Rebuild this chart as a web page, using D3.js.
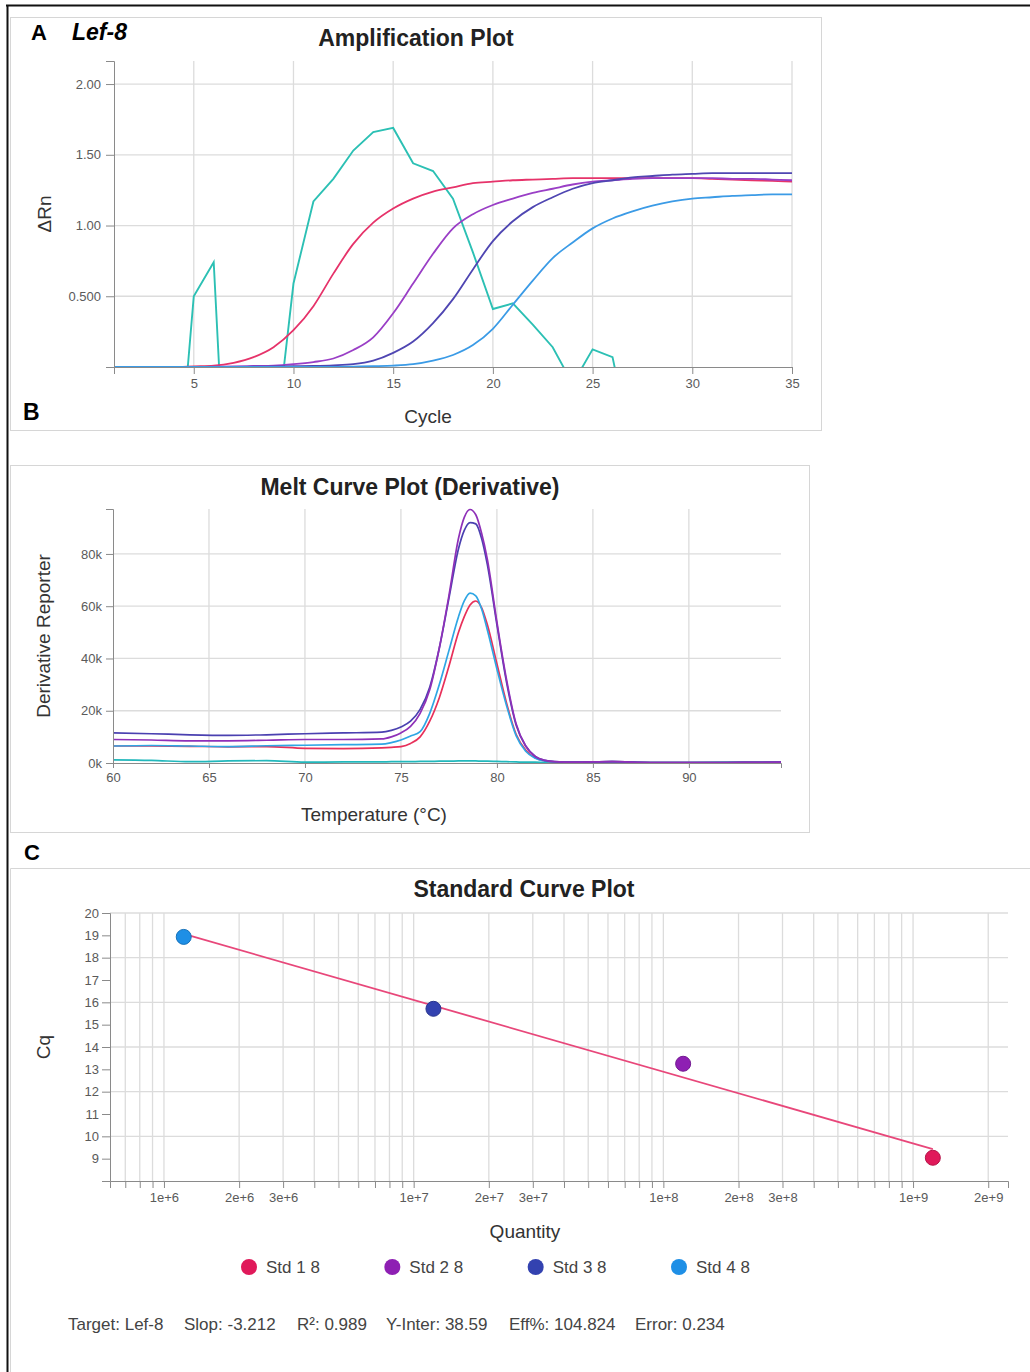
<!DOCTYPE html>
<html><head><meta charset="utf-8">
<script src="https://cdn.jsdelivr.net/npm/d3@7"></script>
<style>
body{margin:0;background:#fff;}
svg{display:block;font-family:"Liberation Sans",Arial,sans-serif;}
.axis path,.axis line{stroke:#8a8a8a;}
.axis text{fill:#5a5a5a;font-size:13px;font-family:"Liberation Sans",Arial,sans-serif;}
</style></head><body>
<svg id="chart" width="1030" height="1372"></svg>
<script>
// ---------------- Panel A: Amplification plot ----------------
const ampCycles = [1,2,3,4,5,6,7,8,9,10,11,12,13,14,15,16,17,18,19,20,21,22,23,24,25,26,27,28,29,30,31,32,33,34,35];
const ampStd1 = [0,0,0,0,0.005,0.01,0.03,0.07,0.14,0.26,0.43,0.66,0.87,1.02,1.12,1.19,1.24,1.27,1.30,1.31,1.32,1.325,1.33,1.335,1.335,1.335,1.335,1.335,1.335,1.335,1.33,1.325,1.32,1.315,1.31];
const ampStd2 = [0,0,0,0,0,0.002,0.004,0.007,0.01,0.02,0.035,0.06,0.12,0.21,0.38,0.59,0.80,0.98,1.08,1.145,1.19,1.23,1.26,1.29,1.31,1.32,1.33,1.335,1.335,1.335,1.335,1.33,1.33,1.325,1.32];
const ampStd3 = [0,0,0,0,0,0,0,0.002,0.004,0.006,0.008,0.012,0.02,0.045,0.10,0.18,0.31,0.48,0.69,0.89,1.03,1.13,1.20,1.26,1.30,1.32,1.34,1.35,1.36,1.365,1.37,1.37,1.37,1.37,1.37];
const ampStd4 = [0,0,0,0,0,0,0,0,0,0,0,0,0.003,0.006,0.01,0.02,0.045,0.085,0.155,0.27,0.44,0.61,0.77,0.88,0.98,1.05,1.10,1.14,1.17,1.19,1.20,1.21,1.215,1.22,1.22];
const ampNTC  = [-0.2,-0.5,-0.8,-1.17,0.5,0.74,-2.0,-1.5,-0.64,0.59,1.17,1.33,1.53,1.66,1.69,1.44,1.385,1.19,0.81,0.41,0.45,0.30,0.14,-0.12,0.125,0.07,-0.6,-0.8,-0.9,-1.0,-1.1,-1.2,-1.3,-1.4,-1.5];
const ampXTicks = [5,10,15,20,25,30,35];
const ampYTicks = [0,0.5,1.0,1.5,2.0];
const ampYTickLabels = ["","0.500","1.00","1.50","2.00"];

// ---------------- Panel B: Melt curve ----------------
const meltTemps = [60,62,64,66,68,70,72,74,74.5,75,75.5,76,76.5,77,77.5,78,78.3,78.6,78.9,79.2,79.5,80,80.5,81,81.5,82,82.5,83,84,86,88,90,92,94.8];
const meltStd2 = [9.0,8.8,8.5,8.5,8.7,9.0,9.0,9.2,10.0,11.5,14,19,28,44,64,86,94,97,95,88,78,54,32,15,6.5,2.5,1.0,0.5,0.3,0.5,0.2,0.2,0.2,0.3];
const meltStd3 = [11.5,11.2,10.8,10.6,10.8,11.2,11.5,11.8,12.5,13.8,16,20.5,29,44,63,82,89,92,91.5,86,76,53,31,14.5,6.5,2.5,1.0,0.5,0.3,0.5,0.2,0.2,0.2,0.3];
const meltStd4 = [6.5,6.7,6.5,6.3,6.6,6.8,7.0,7.2,7.8,8.8,10.3,12,19,30,43,56,62,65,64,59,51,36,22,10.5,4.5,1.8,0.7,0.4,0.3,0.5,0.2,0.2,0.2,0.3];
const meltStd1 = [6.5,6.5,6.4,6.2,6.3,5.6,5.5,5.8,6.0,6.3,7.5,10,16,25,37,50,56,60.5,62,59.5,53,38,23,11,5,2,0.8,0.4,0.3,0.5,0.2,0.2,0.2,0.3];
const meltNTC  = [1.2,1.0,0.5,0.8,0.9,0.3,0.4,0.4,0.5,0.5,0.5,0.6,0.6,0.7,0.7,0.8,0.8,0.8,0.8,0.7,0.7,0.6,0.5,0.4,0.3,0.3,0.2,0.2,0.2,0.2,0.2,0.2,0.3,0.3];
const meltXTicks = [60,65,70,75,80,85,90];
const meltYTicks = [0,20,40,60,80];
const meltYTickLabels = ["0k","20k","40k","60k","80k"];

// ---------------- Panel C: Standard curve ----------------
const stdNames = ["Std 1 8","Std 2 8","Std 3 8","Std 4 8"];
const stdQuantity = [1.2e9,1.2e8,1.2e7,1.2e6];
const stdCq = [9.04,13.25,15.71,18.93];
const fitSlope = -3.212;
const fitIntercept = 38.59;
const stdYTicks = [9,10,11,12,13,14,15,16,17,18,19,20];
const stdYGrid = [10,12,14,16,18,20];
const stdXLabelMultipliers = [1,2,3];
const stdFooter = ["Target: Lef-8","Slop: -3.212","R\u00b2: 0.989","Y-Inter: 38.59","Eff%: 104.824","Error: 0.234"];

const colStd1 = "#e6336a", colStd2 = "#9a3fc6", colStd3 = "#4f46b2", colStd4 = "#3b9be6", colNTC = "#2cc0b4";
const meltColStd1 = "#e8305a", meltColStd2 = "#8f30b8", meltColStd3 = "#4a40b0", meltColStd4 = "#2fa6e4", meltColNTC = "#22b8bc";
const dotColors = ["#e0195a","#8e1fb3","#3342b0","#1e8fe6"];

const svg = d3.select("#chart");
const gridCol = "#dcdcdc";

// outer frame
svg.append("line").attr("x1",6).attr("x2",1030).attr("y1",5.5).attr("y2",5.5).attr("stroke","#111").attr("stroke-width",2);
svg.append("line").attr("x1",7.5).attr("x2",7.5).attr("y1",5).attr("y2",1372).attr("stroke","#111").attr("stroke-width",2);

// panel boxes
svg.append("rect").attr("x",10.5).attr("y",17.5).attr("width",811).attr("height",413).attr("fill","none").attr("stroke","#d6d6d6");
svg.append("rect").attr("x",10.5).attr("y",465.5).attr("width",799).attr("height",367).attr("fill","none").attr("stroke","#d6d6d6");
svg.append("path").attr("d","M10.5,1372V868.5H1030").attr("fill","none").attr("stroke","#d6d6d6");

// panel letters
svg.append("text").attr("x",31).attr("y",40).attr("font-size",22).attr("font-weight","bold").attr("fill","#000").text("A");
svg.append("text").attr("x",72).attr("y",40).attr("font-size",23).attr("font-weight","bold").attr("font-style","italic").attr("fill","#000").text("Lef-8");
svg.append("text").attr("x",23).attr("y",420).attr("font-size",23).attr("font-weight","bold").attr("fill","#000").text("B");
svg.append("text").attr("x",24).attr("y",860).attr("font-size",22).attr("font-weight","bold").attr("fill","#000").text("C");

function title(x,y,t){svg.append("text").attr("x",x).attr("y",y).attr("text-anchor","middle").attr("font-size",23).attr("font-weight","bold").attr("fill","#222").text(t);}
function axisTitle(x,y,t,rot){const s=svg.append("text").attr("text-anchor","middle").attr("font-size",19).attr("fill","#333").text(t);
  if(rot){s.attr("transform",`translate(${x},${y}) rotate(-90)`);}else{s.attr("x",x).attr("y",y);} }

// ======== Panel A ========
{
  const x = d3.scaleLinear().domain([1,35]).range([114,792]);
  const y = d3.scaleLinear().domain([0,2.163]).range([367,61]);
  const g = svg.append("g");
  g.selectAll(".vg").data(ampXTicks).join("line").attr("x1",d=>x(d)).attr("x2",d=>x(d)).attr("y1",y.range()[1]).attr("y2",y(0)).attr("stroke",gridCol).attr("stroke-width",1.3);
  g.selectAll(".hg").data(ampYTicks.filter(d=>d>0)).join("line").attr("x1",x(1)).attr("x2",x(35)).attr("y1",d=>y(d)).attr("y2",d=>y(d)).attr("stroke",gridCol).attr("stroke-width",1.3);
  svg.append("clipPath").attr("id","clipA").append("rect").attr("x",x(1)).attr("y",y.range()[1]).attr("width",x(35)-x(1)).attr("height",y(0)-y.range()[1]+0.5);
  const line = d3.line().x((d,i)=>x(ampCycles[i])).y(d=>y(d)).curve(d3.curveMonotoneX);
  const lineLin = d3.line().x((d,i)=>x(ampCycles[i])).y(d=>y(d));
  const lg = svg.append("g").attr("clip-path","url(#clipA)");
  lg.append("path").attr("d",lineLin(ampNTC)).attr("fill","none").attr("stroke",colNTC).attr("stroke-width",1.9);
  [[ampStd1,colStd1],[ampStd2,colStd2],[ampStd3,colStd3],[ampStd4,colStd4]].forEach(([s,c])=>{
    lg.append("path").attr("d",line(s)).attr("fill","none").attr("stroke",c).attr("stroke-width",1.8);
  });
  svg.append("g").attr("class","axis").attr("transform",`translate(0,${y(0)})`)
    .call(d3.axisBottom(x).tickValues(ampXTicks).tickSize(7).tickPadding(5).tickFormat(d3.format("d")));
  svg.append("g").attr("class","axis").attr("transform",`translate(${x(1)},0)`)
    .call(d3.axisLeft(y).tickValues(ampYTicks).tickSize(8).tickPadding(5).tickFormat((d,i)=>ampYTickLabels[i]));
  title(416,46,"Amplification Plot");
  axisTitle(428,423,"Cycle",false);
  axisTitle(51,214,"\u0394Rn",true);
}

// ======== Panel B ========
{
  const x = d3.scaleLinear().domain([60,94.8]).range([113,781]);
  const y = d3.scaleLinear().domain([0,97.2]).range([763,509]);
  const g = svg.append("g");
  g.selectAll(".vg").data(meltXTicks.filter(d=>d>60)).join("line").attr("x1",d=>x(d)).attr("x2",d=>x(d)).attr("y1",509).attr("y2",763).attr("stroke",gridCol).attr("stroke-width",1.3);
  g.selectAll(".hg").data(meltYTicks.filter(d=>d>0)).join("line").attr("x1",113).attr("x2",781).attr("y1",d=>y(d)).attr("y2",d=>y(d)).attr("stroke",gridCol).attr("stroke-width",1.3);
  const line = d3.line().x((d,i)=>x(meltTemps[i])).y(d=>y(d)).curve(d3.curveMonotoneX);
  [[meltNTC,meltColNTC],[meltStd1,meltColStd1],[meltStd4,meltColStd4],[meltStd3,meltColStd3],[meltStd2,meltColStd2]].forEach(([s,c])=>{
    svg.append("path").attr("d",line(s)).attr("fill","none").attr("stroke",c).attr("stroke-width",1.7);
  });
  svg.append("g").attr("class","axis").attr("transform",`translate(0,${y(0)})`)
    .call(d3.axisBottom(x).tickValues(meltXTicks).tickSize(5).tickPadding(5).tickFormat(d3.format("d")));
  svg.append("g").attr("class","axis").attr("transform",`translate(${x(60)},0)`)
    .call(d3.axisLeft(y).tickValues(meltYTicks).tickSize(7).tickPadding(4).tickFormat((d,i)=>meltYTickLabels[i]));
  title(410,495,"Melt Curve Plot (Derivative)");
  axisTitle(374,821,"Temperature (\u00b0C)",false);
  axisTitle(50,636,"Derivative Reporter",true);
}

// ======== Panel C ========
{
  const x = d3.scaleLog().domain([6.08e5,2.4e9]).range([110,1008]);
  const y = d3.scaleLinear().domain([8,20]).range([1181,913]);
  const allTicks = x.ticks(30).filter(d=>d>=x.domain()[0] && d<=x.domain()[1]);
  const mant = d=>Math.round(d/Math.pow(10,Math.floor(Math.log10(d)+1e-9)));
  const g = svg.append("g");
  g.selectAll(".vg").data(allTicks).join("line").attr("x1",d=>x(d)).attr("x2",d=>x(d)).attr("y1",913).attr("y2",1181).attr("stroke",gridCol).attr("stroke-width",1.3);
  g.selectAll(".hg").data(stdYGrid).join("line").attr("x1",110).attr("x2",1008).attr("y1",d=>y(d)).attr("y2",d=>y(d)).attr("stroke",gridCol).attr("stroke-width",1.3);
  svg.append("g").attr("class","axis").attr("transform",`translate(0,1181)`)
    .call(d3.axisBottom(x).tickValues(allTicks).tickSize(7).tickPadding(5)
      .tickFormat(d=> stdXLabelMultipliers.includes(mant(d)) ? mant(d)+"e+"+Math.floor(Math.log10(d)+1e-9) : ""));
  svg.append("g").attr("class","axis").attr("transform",`translate(110,0)`)
    .call(d3.axisLeft(y).tickValues(stdYTicks).tickSize(8).tickPadding(3).tickFormat(d3.format("d")));
  // fit line
  const qMin = d3.min(stdQuantity), qMax = d3.max(stdQuantity);
  svg.append("line").attr("x1",x(qMin)).attr("y1",y(fitSlope*Math.log10(qMin)+fitIntercept))
    .attr("x2",x(qMax)).attr("y2",y(fitSlope*Math.log10(qMax)+fitIntercept))
    .attr("stroke","#e8477a").attr("stroke-width",1.8);
  svg.selectAll(".dot").data(stdQuantity).join("circle").attr("cx",d=>x(d)).attr("cy",(d,i)=>y(stdCq[i]))
    .attr("r",7.5).attr("fill",(d,i)=>dotColors[i]).attr("stroke",(d,i)=>d3.color(dotColors[i]).darker(0.6)).attr("stroke-width",1);
  title(524,897,"Standard Curve Plot");
  axisTitle(525,1238,"Quantity",false);
  axisTitle(50,1047,"Cq",true);
  // legend
  const legX = d3.scalePoint().domain(stdNames).range([249,679]);
  const lg = svg.selectAll(".leg").data(stdNames).join("g").attr("transform",d=>`translate(${legX(d)},1267)`);
  lg.append("circle").attr("r",8).attr("fill",(d,i)=>dotColors[i]);
  lg.append("text").attr("x",17).attr("y",6).attr("font-size",17).attr("fill","#444").text(d=>d);
  // footer
  const footX = [68,184,297,386,509,635];
  svg.selectAll(".foot").data(stdFooter).join("text").attr("x",(d,i)=>footX[i]).attr("y",1330)
    .attr("font-size",17).attr("fill","#444").text(d=>d);
}
</script></body></html>
